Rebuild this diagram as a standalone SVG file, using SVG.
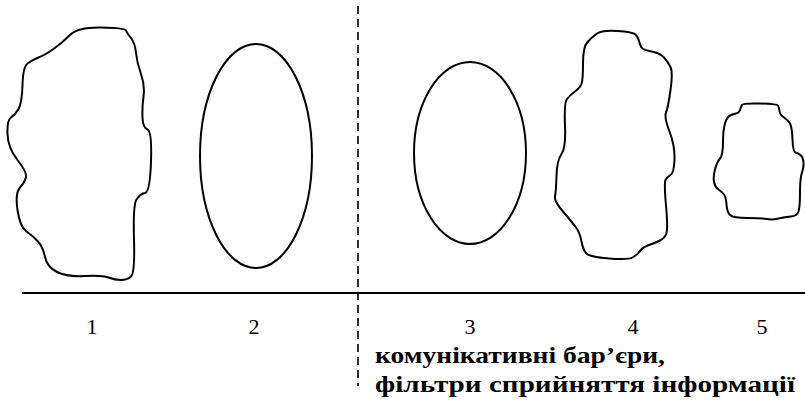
<svg xmlns="http://www.w3.org/2000/svg" width="805" height="401" viewBox="0 0 805 401">
<style>
.sh{fill:none;stroke:#000;stroke-width:2;stroke-linejoin:round}
.num{font-size:22px;text-anchor:middle;fill:#000}
.lab{font-size:24px;font-weight:bold;fill:#000}
</style>
<rect width="805" height="401" fill="#fff"/>
<g id="axis">
<line x1="22" y1="293" x2="805" y2="293" stroke="#000" stroke-width="2"/>
<line x1="358" y1="6" x2="358" y2="386" stroke="#000" stroke-width="1.6" stroke-dasharray="8,5"/>
</g>
<g id="node1">
<path class="sh" d="M70,35 Q78,27 101.5,27.5 Q125,28 126,30.5 Q127,33 131,38 Q135,43 136,53 Q137,63 141,74 Q145,85 143.5,96.5 Q142,108 142.5,118 Q143,128 147.5,129.5 Q152,131 151,161.5 Q150,192 145,193 Q140,194 136.5,199.5 Q133,205 134,239 Q135,273 131,276.5 Q127,280 121,280 Q115,280 108.5,277.5 Q102,275 84.5,276 Q67,277 57,272 Q47,267 45,257 Q43,247 38,241.5 Q33,236 26.5,231.5 Q20,227 17.5,210 Q15,193 20,187.5 Q25,182 26,177 Q27,172 17.5,160 Q8,148 7.5,134 Q7,120 11,117.5 Q15,115 18.5,109 Q22,103 22.5,85 Q23,67 27.5,63.5 Q32,60 38.5,57.5 Q45,55 53.5,49 Q62,43 70,35 Z"/>
<text class="num" font-family="Liberation Serif, serif" x="92" y="334">1</text>
</g>
<g id="node2">
<ellipse class="sh" cx="256" cy="156" rx="56" ry="112"/>
<text class="num" font-family="Liberation Serif, serif" x="254" y="334">2</text>
</g>
<g id="node3">
<ellipse class="sh" cx="470" cy="153" rx="56" ry="91"/>
<text class="num" font-family="Liberation Serif, serif" x="470" y="334">3</text>
</g>
<g id="node4">
<path class="sh" d="M597,33.5 Q602,30 617.5,31 Q633,32 635.5,34.5 Q638,37 639,41 Q640,45 641.5,47.5 Q643,50 651.5,51.5 Q660,53 664,57.5 Q668,62 670.5,67 Q673,72 670.5,90 Q668,108 666,112.5 Q664,117 669.5,131.5 Q675,146 674.5,159.5 Q674,173 670.5,175 Q667,177 665.5,180 Q664,183 666,205.5 Q668,228 666.5,233 Q665,238 660,240.5 Q655,243 649,245 Q643,247 640,251 Q637,255 632.5,257.5 Q628,260 609,258.5 Q590,257 586.5,253.5 Q583,250 581.5,241.5 Q580,233 576,227.5 Q572,222 563,211.5 Q554,201 555,196.5 Q556,192 556.5,176 Q557,160 561.5,154 Q566,148 565,125.5 Q564,103 567,99 Q570,95 575,91.5 Q580,88 581.5,84 Q583,80 583,63.5 Q583,47 587.5,42 Q592,37 597,33.5 Z"/>
<text class="num" font-family="Liberation Serif, serif" x="633" y="334">4</text>
</g>
<g id="node5">
<path class="sh" d="M742,105 Q743,103 760,103.5 Q777,104 778,105.5 Q779,107 779.5,111 Q780,115 784,117.5 Q788,120 790,123.5 Q792,127 792.5,139.5 Q793,152 795.5,152.5 Q798,153 800.5,155 Q803,157 803.5,162 Q804,167 802,172.5 Q800,178 800,192.5 Q800,207 798.5,211.5 Q797,216 791,216.5 Q785,217 778.5,218.5 Q772,220 767,219 Q762,218 747.5,218 Q733,218 730,215 Q727,212 726.5,204.5 Q726,197 724,194.5 Q722,192 718.5,189.5 Q715,187 714,182 Q713,177 715,169.5 Q717,162 720,158.5 Q723,155 723,142.5 Q723,130 725,123.5 Q727,117 730,115.5 Q733,114 736,113.5 Q739,113 740,110 Q741,107 742,105 Z"/>
<text class="num" font-family="Liberation Serif, serif" x="762" y="334">5</text>
</g>
<g id="caption">
<text class="lab" font-family="Liberation Serif, serif" x="375" y="363" textLength="290" lengthAdjust="spacingAndGlyphs">комунікативні бар’єри,</text>
<text class="lab" font-family="Liberation Serif, serif" x="375" y="392" textLength="420" lengthAdjust="spacingAndGlyphs">фільтри сприйняття інформації</text>
</g>
</svg>
